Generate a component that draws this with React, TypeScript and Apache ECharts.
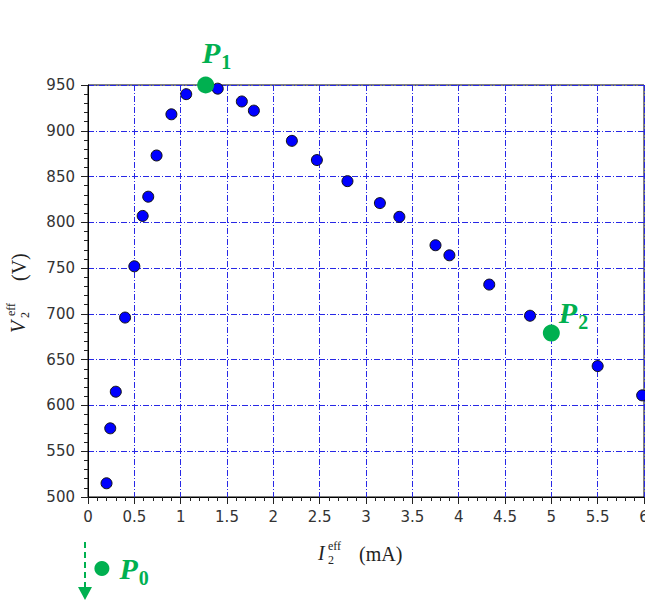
import React, { useEffect, useRef } from "react";
import * as echarts from "echarts";

// Measured points: I2eff (mA) vs V2eff (V)
const currentMA = [0.2, 0.24, 0.3, 0.4, 0.5, 0.59, 0.65, 0.74, 0.9, 1.06, 1.4, 1.66, 1.79, 2.2, 2.47, 2.8, 3.15, 3.36, 3.75, 3.9, 4.33, 4.77, 5.5, 5.98];
const voltageV = [515, 575, 615, 696, 752, 807, 828, 873, 918, 940, 946, 932, 922, 889, 868, 845, 821, 806, 775, 764, 732, 698, 643, 611];

// Annotated points
const pointNames = ["0", "1", "2"];
const pointI = [0.15, 1.27, 5.0];
const pointV = [422, 950, 679];

const xTicks = { min: 0, max: 6, interval: 0.5 };
const yTicks = { min: 500, max: 950, interval: 50 };

const GREEN = "#00b050";
const GRID_BLUE = "#2828e6";
const SERIF = "'Liberation Serif', 'DejaVu Serif', serif";

export default function App() {
  const ref = useRef<HTMLDivElement>(null);
  useEffect(() => {
    if (!ref.current) return;
    const chart = echarts.init(ref.current, undefined, { renderer: "svg" });

    const labelPos: any[] = [
      { position: "right", distance: 10, offset: [0, 0] },
      { position: "top", distance: 0, offset: [11, -5] },
      { position: "right", distance: 0, offset: [-1, -21] },
    ];

    const dashStyle = { type: [6, 2, 1, 2] as any, color: GRID_BLUE, width: 1 };

    const axisCommon = {
      axisLine: { show: true, lineStyle: { color: "#000", width: 1 } },
      axisTick: { show: true, length: 7, lineStyle: { color: "#222" } },
      minorTick: { show: true, splitNumber: 5, length: 4, lineStyle: { color: "#222" } },
      splitLine: { show: true, lineStyle: dashStyle },
    };

    const option: any = {
      animation: false,
      backgroundColor: "#fff",
      grid: {
        left: 88,
        top: 85,
        right: 1,
        bottom: 103,
        containLabel: false,
        outerBoundsMode: "none",
        show: true,
        borderColor: "#000",
        borderWidth: 1,
        backgroundColor: "transparent",
      },
      xAxis: {
        type: "value",
        min: xTicks.min,
        max: xTicks.max,
        interval: xTicks.interval,
        ...axisCommon,
        axisLabel: {
          color: "#333",
          fontSize: 15,
          fontFamily: "'DejaVu Sans', sans-serif",
          margin: 12,
          showMaxLabel: true,
          hideOverlap: false,
        },
      },
      yAxis: {
        type: "value",
        min: yTicks.min,
        max: yTicks.max,
        interval: yTicks.interval,
        ...axisCommon,
        axisLabel: {
          color: "#333",
          fontSize: 15,
          fontFamily: "'DejaVu Sans', sans-serif",
          margin: 13,
        },
      },
      series: [
        {
          type: "scatter",
          data: currentMA.map((x, i) => [x, voltageV[i]]),
          symbolSize: 11,
          itemStyle: { color: "#0000ff", borderColor: "#111", borderWidth: 1, opacity: 1 },
          z: 3,
        },
        {
          type: "scatter",
          clip: false,
          data: pointNames.map((n, i) => ({
            value: [pointI[i], pointV[i]],
            name: n,
            symbolSize: i === 0 ? 15 : 17,
            label: labelPos[i],
          })),
          itemStyle: { color: GREEN, opacity: 1 },
          z: 5,
          label: {
            show: true,
            formatter: (p: any) => `{p|P}{s|${p.name}}`,
            rich: {
              p: {
                fontFamily: SERIF,
                fontSize: 30,
                fontWeight: "bold",
                fontStyle: "italic",
                color: GREEN,
                lineHeight: 34,
              },
              s: {
                fontFamily: SERIF,
                fontSize: 20,
                fontWeight: "bold",
                color: GREEN,
                padding: [19, 0, 0, 1],
              },
            },
          },
        },
      ],
      graphic: [
        // x-axis name: I_2^eff (mA)
        {
          type: "group",
          x: 318,
          y: 553,
          children: [
            { type: "text", x: 0, y: 0, style: { text: "I", font: `italic 20px ${SERIF}`, fill: "#222", verticalAlign: "middle" } },
            { type: "text", x: 10, y: -7, style: { text: "eff", font: `12px ${SERIF}`, fill: "#222", verticalAlign: "middle" } },
            { type: "text", x: 10, y: 7, style: { text: "2", font: `12px ${SERIF}`, fill: "#222", verticalAlign: "middle" } },
            { type: "text", x: 41, y: 1, style: { text: "(mA)", font: `20px ${SERIF}`, fill: "#222", verticalAlign: "middle" } },
          ],
        },
        // y-axis name: V_2^eff (V)
        {
          type: "group",
          x: 18,
          y: 333,
          rotation: Math.PI / 2,
          children: [
            { type: "text", x: 0, y: 0, style: { text: "V", font: `italic 20px ${SERIF}`, fill: "#222", verticalAlign: "middle" } },
            { type: "text", x: 17, y: -7, style: { text: "eff", font: `12px ${SERIF}`, fill: "#222", verticalAlign: "middle" } },
            { type: "text", x: 15, y: 7, style: { text: "2", font: `12px ${SERIF}`, fill: "#222", verticalAlign: "middle" } },
            { type: "text", x: 52, y: 1, style: { text: "(V)", font: `20px ${SERIF}`, fill: "#222", verticalAlign: "middle" } },
          ],
        },
        // dashed green arrow below P0
        {
          type: "line",
          shape: { x1: 85, y1: 542, x2: 85, y2: 588 },
          style: { stroke: GREEN, lineWidth: 2, lineDash: [6, 4] },
        },
        {
          type: "polygon",
          shape: { points: [[78, 587], [92, 587], [85, 600]] },
          style: { fill: GREEN },
        },
      ],
    };

    chart.setOption(option);
    return () => chart.dispose();
  }, []);

  return (
    <div
      ref={ref}
      style={{ position: "fixed", left: 0, top: 0, width: 645, height: 600, background: "#fff" }}
    />
  );
}
